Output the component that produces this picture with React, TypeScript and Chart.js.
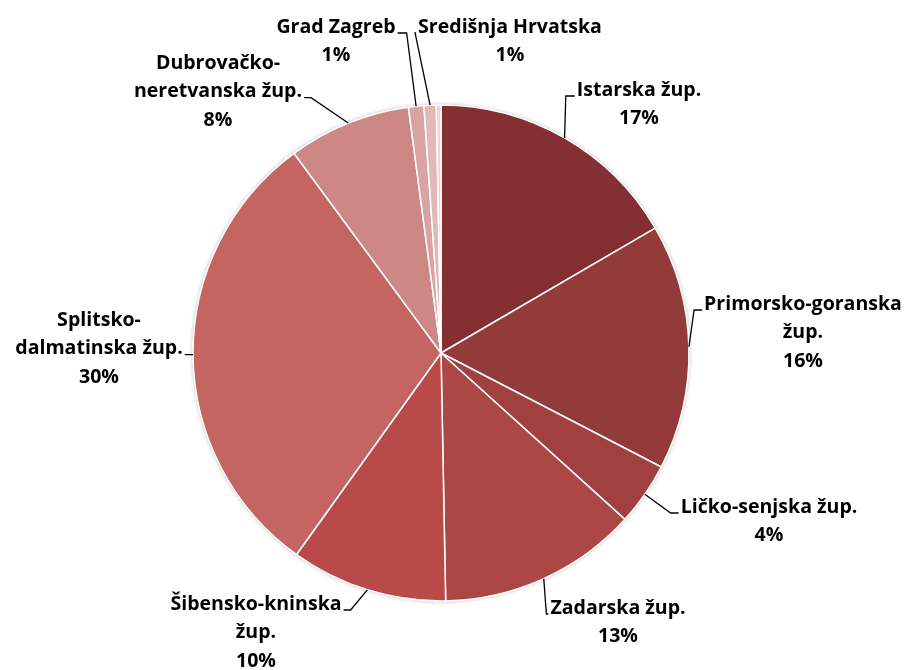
import React, { useEffect, useRef } from 'react';
import { Chart, registerables } from 'chart.js';

Chart.register(...registerables);

// ---- data ----
const categories: string[] = [
  'Istarska žup.',
  'Primorsko-goranska žup.',
  'Ličko-senjska žup.',
  'Zadarska žup.',
  'Šibensko-kninska žup.',
  'Splitsko-dalmatinska žup.',
  'Dubrovačko-neretvanska žup.',
  'Grad Zagreb',
  'Središnja Hrvatska',
  'Ostalo',
];
const shares: number[] = [16.6, 16.0, 4.1, 13.0, 10.2, 30.0, 8.0, 1.0, 0.8, 0.3];
const labelLines: string[][] = [
  ['Istarska žup.'],
  ['Primorsko-goranska', 'žup.'],
  ['Ličko-senjska žup.'],
  ['Zadarska žup.'],
  ['Šibensko-kninska', 'žup.'],
  ['Splitsko-', 'dalmatinska žup.'],
  ['Dubrovačko-', 'neretvanska žup.'],
  ['Grad Zagreb'],
  ['Središnja Hrvatska'],
  [],
];
const sliceColors: string[] = [
  '#843032', '#933a3a', '#a04140', '#ab4845', '#b84b4a',
  '#c46562', '#cd8886', '#d9a3a1', '#e2b8b7', '#eed3d2',
];

// ---- label layout (text centre x, first-line centre y, attach line, side, stub) ----
type Lay = { x: number; y: number; line: number; side: 'left' | 'right'; stub: number } | null;
const labelLayout: Lay[] = [
  { x: 639, y: 90, line: 0, side: 'left', stub: 9 },
  { x: 803, y: 304, line: 0, side: 'left', stub: 8 },
  { x: 769, y: 507, line: 0, side: 'left', stub: 8 },
  { x: 618, y: 608, line: 0, side: 'left', stub: 2 },
  { x: 256, y: 604, line: 0, side: 'right', stub: 7 },
  { x: 99, y: 320, line: 1, side: 'right', stub: 6 },
  { x: 218, y: 63, line: 1, side: 'right', stub: 7 },
  { x: 336, y: 27, line: 0, side: 'right', stub: 9 },
  { x: 510, y: 27, line: 0, side: 'left', stub: 1 },
  null,
];

const FAMILY = '"Open Sans", Lato, sans-serif';
const LINE_H = 28.7;

function fitFont(ctx: CanvasRenderingContext2D): string {
  ctx.font = `bold 20px ${FAMILY}`;
  const w = ctx.measureText('Primorsko-goranska').width;
  const size = Math.min(22, Math.max(16, (20 * 198) / w));
  return `bold ${size.toFixed(2)}px ${FAMILY}`;
}

const labelPlugin = {
  id: 'pieLabels',
  beforeDatasetsDraw(chart: any) {
    const meta = chart.getDatasetMeta(0);
    const a = meta.data[0];
    if (!a) return;
    const { x, y, outerRadius } = a.getProps(['x', 'y', 'outerRadius'], true);
    const ctx = chart.ctx;
    ctx.save();
    ctx.shadowColor = 'rgba(0,0,0,0.35)';
    ctx.shadowBlur = 4;
    ctx.beginPath();
    ctx.arc(x, y, outerRadius, 0, Math.PI * 2);
    ctx.fillStyle = '#ffffff';
    ctx.fill();
    ctx.restore();
  },
  afterDatasetsDraw(chart: any) {
    const ctx = chart.ctx;
    const meta = chart.getDatasetMeta(0);
    const total = shares.reduce((s, v) => s + v, 0);
    ctx.save();
    ctx.font = fitFont(ctx);
    ctx.textAlign = 'center';
    ctx.textBaseline = 'middle';
    meta.data.forEach((arc: any, i: number) => {
      const lay = labelLayout[i];
      if (!lay) return;
      const { x, y, startAngle, endAngle, outerRadius } = arc.getProps(
        ['x', 'y', 'startAngle', 'endAngle', 'outerRadius'], true);
      const mid = (startAngle + endAngle) / 2;
      const px = x + Math.cos(mid) * outerRadius;
      const py = y + Math.sin(mid) * outerRadius;
      const lines = [...labelLines[i], Math.round((shares[i] / total) * 100) + '%'];
      ctx.fillStyle = '#000000';
      lines.forEach((t, k) => ctx.fillText(t, lay.x, lay.y + k * LINE_H));
      const w = ctx.measureText(lines[lay.line]).width;
      const ay = lay.y + lay.line * LINE_H + 6;
      const ax = lay.side === 'left' ? lay.x - w / 2 - 2 : lay.x + w / 2 + 2;
      const sx = lay.side === 'left' ? ax - lay.stub : ax + lay.stub;
      ctx.strokeStyle = '#000000';
      ctx.lineWidth = 1.3;
      ctx.beginPath();
      ctx.moveTo(px, py);
      ctx.lineTo(sx, ay);
      ctx.lineTo(ax, ay);
      ctx.stroke();
    });
    ctx.restore();
  },
};

export default function App() {
  const ref = useRef<HTMLCanvasElement | null>(null);
  useEffect(() => {
    if (!ref.current) return;
    const chart = new Chart(ref.current, {
      type: 'pie',
      data: {
        labels: categories,
        datasets: [
          {
            data: shares,
            backgroundColor: sliceColors,
            borderColor: '#ffffff',
            borderWidth: 1.5,
          },
        ],
      },
      options: {
        animation: false,
        responsive: false,
        devicePixelRatio: 1,
        radius: 248,
        layout: { padding: { left: 0, right: 24, top: 36, bottom: 0 } },
        plugins: {
          legend: { display: false },
          tooltip: { enabled: false },
        },
      } as any,
      plugins: [labelPlugin],
    });
    return () => chart.destroy();
  }, []);
  return (
    <div style={{ position: 'fixed', left: 0, top: 0, width: 906, height: 670, background: '#fff' }}>
      <canvas ref={ref} width={906} height={670} />
    </div>
  );
}
